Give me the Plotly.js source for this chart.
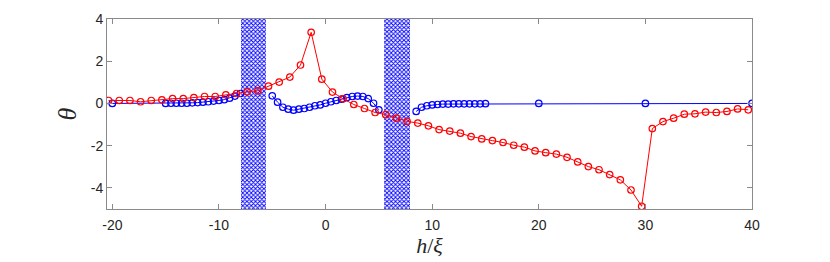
<!DOCTYPE html>
<html>
<head>
<meta charset="utf-8">
<script src="https://cdn.plot.ly/plotly-3.0.1.min.js"></script>
<style>html,body{margin:0;padding:0;background:#fff;}#chart{width:830px;height:262px;}</style>
</head>
<body>
<div id="chart"></div>
<script>
// Red series (open circles)
const redX = [-20.35,-19.35,-18.35,-17.35,-16.35,-15.35,-14.35,-13.35,-12.35,-11.35,
  -10.35,-9.35,-8.35,-7.35,-6.35,-5.35,-4.35,-3.35,-2.35,-1.35,
  -0.35,0.65,1.65,2.65,3.65,4.65,5.65,6.65,7.65,8.65,
  9.65,10.65,11.65,12.65,13.65,14.65,15.65,16.65,17.65,18.65,
  19.65,20.65,21.65,22.65,23.65,24.65,25.65,26.65,27.65,28.65,
  29.65,30.65,31.65,32.65,33.65,34.65,35.65,36.65,37.65,38.65,39.65];
const redY = [0.14,0.14,0.14,0.08,0.14,0.17,0.23,0.23,0.28,0.33,
  0.33,0.41,0.47,0.55,0.60,0.82,1.01,1.25,1.82,3.37,
  1.15,0.54,0.22,-0.05,-0.24,-0.43,-0.53,-0.70,-0.85,-0.93,
  -1.06,-1.24,-1.31,-1.41,-1.57,-1.68,-1.76,-1.85,-1.98,-2.07,
  -2.25,-2.33,-2.40,-2.55,-2.77,-2.99,-3.14,-3.37,-3.62,-4.10,
  -4.87,-1.19,-0.86,-0.70,-0.51,-0.49,-0.41,-0.43,-0.38,-0.26,-0.30];

// Blue series (open circles), null = gap inside hatched bands
const blueX = [-20,-15,-14.5,-14,-13.5,-13,-12.5,-12,-11.5,-11,-10.5,-10,-9.5,-9,-8.5,-8,
  null,
  -5,-4.5,-4,-3.5,-3,-2.5,-2,-1.5,-1,-0.5,0,0.5,1,1.5,2,2.5,3,3.5,4,4.5,5,
  null,
  8.5,9,9.5,10,10.5,11,11.5,12,12.5,13,13.5,14,14.5,15,20,30,40];
const blueY = [0.0,0.0,0.01,0.01,0.01,0.01,0.03,0.04,0.06,0.08,0.11,0.14,0.18,0.25,0.35,0.47,
  null,
  0.36,0.06,-0.18,-0.27,-0.32,-0.27,-0.24,-0.18,-0.11,-0.07,0.01,0.08,0.14,0.20,0.28,0.33,0.35,0.33,0.23,0.01,-0.30,
  null,
  -0.38,-0.18,-0.11,-0.07,-0.05,-0.03,-0.03,-0.02,-0.02,-0.02,-0.02,-0.02,-0.02,-0.01,0.0,0.0,0.0];

// Hatched bands
const bandLo = [-7.95, 5.50];
const bandHi = [-5.58, 7.92];
const yRange = [-5, 4];
const xRange = [-20.5, 40];
const xTicks = [-20,-10,0,10,20,30,40];
const yTicks = [-4,-2,0,2,4];

const bandTrace = {
  type: 'bar',
  x: bandLo.map((lo, i) => (lo + bandHi[i]) / 2),
  width: bandLo.map((lo, i) => bandHi[i] - lo),
  base: bandLo.map(() => yRange[0]),
  y: bandLo.map(() => yRange[1] - yRange[0]),
  marker: {
    color: '#ffffff',
    line: {width: 0},
    pattern: {shape: 'x', fgcolor: '#0000ff', bgcolor: '#ffffff', size: 3, solidity: 0.5}
  },
  hoverinfo: 'skip'
};

const blueTrace = {
  type: 'scatter', mode: 'lines+markers',
  x: blueX, y: blueY,
  line: {color: '#0000ff', width: 1},
  marker: {symbol: 'circle-open', size: 6.5, color: '#0000ff', line: {width: 1.2, color: '#0000ff'}},
  connectgaps: false
};

const redTrace = {
  type: 'scatter', mode: 'lines+markers',
  x: redX, y: redY,
  line: {color: '#ff0000', width: 1},
  marker: {symbol: 'circle-open', size: 6.5, color: '#ff0000', line: {width: 1.2, color: '#ff0000'}}
};

const axisCommon = {
  showgrid: false, zeroline: false,
  showline: true, linecolor: '#8a8a8a', linewidth: 1,
  mirror: 'ticks', ticks: 'inside', ticklen: 5, tickcolor: '#8a8a8a', tickwidth: 1,
  tickfont: {family: 'Liberation Sans, Arial, sans-serif', size: 14, color: '#262626'}
};

const layout = {
  width: 830, height: 262,
  margin: {l: 107, r: 78, t: 19, b: 53},
  paper_bgcolor: '#ffffff', plot_bgcolor: '#ffffff',
  showlegend: false, hovermode: false, bargap: 0,
  xaxis: Object.assign({}, axisCommon, {
    range: xRange, tickvals: xTicks, ticktext: xTicks.map(String),
    ticklabelstandoff: 3,
    title: {text: '<i>h</i>/<i>ξ</i>', font: {family: 'Liberation Serif, DejaVu Serif, serif', size: 22, color: '#262626'}, standoff: 4}
  }),
  yaxis: Object.assign({}, axisCommon, {
    range: yRange, tickvals: yTicks, ticktext: yTicks.map(String),
    title: {text: '<i>θ</i>', font: {family: 'Liberation Serif, DejaVu Serif, serif', size: 26, color: '#262626'}, standoff: 6}
  })
};

Plotly.newPlot('chart', [bandTrace, blueTrace, redTrace], layout, {staticPlot: true, displayModeBar: false});
</script>
</body>
</html>
